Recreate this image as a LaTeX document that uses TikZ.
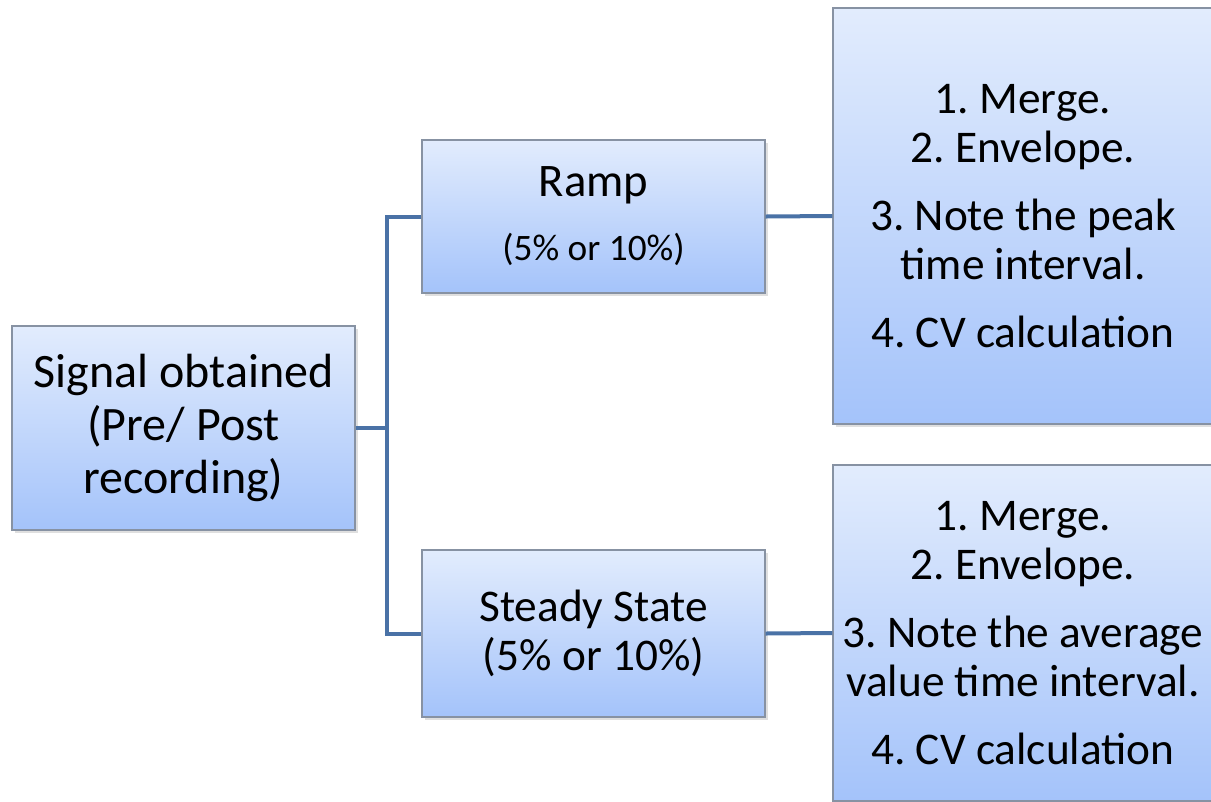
\documentclass[tikz,border=0pt]{standalone}
\usepackage{fontspec}
\setmainfont{Carlito}
\frenchspacing
\usetikzlibrary{shadows}

\definecolor{boxtop}{HTML}{E2ECFD}
\definecolor{boxbot}{HTML}{A4C3FA}
\definecolor{boxline}{HTML}{8792A3}
\definecolor{linkblue}{HTML}{4A72A6}

\tikzset{
  box/.style={draw=boxline, line width=0.8pt, top color=boxtop, bottom color=boxbot,
    inner sep=0pt, align=center, text=black,
    drop shadow={opacity=0.25, shadow xshift=2pt, shadow yshift=-2.5pt}},
  link/.style={draw=linkblue, line width=3pt},
  bigtext/.style={font=\fontsize{36}{40}\selectfont},
  steptext/.style={font=\fontsize{34}{37}\selectfont}
}

\begin{document}
\begin{tikzpicture}[x=0.75pt, y=-0.75pt]

\useasboundingbox (0,0) rectangle (1211,801);

% Draw boxes
\node[box, bigtext, minimum width=257.25pt, minimum height=153pt] (signal) at (183.5,428)
  {Signal obtained\\(Pre/ Post\\recording)};
\node[box, minimum width=257.25pt, minimum height=114.75pt] (ramp) at (593.5,216.5)
  {{\fontsize{35}{40}\selectfont Ramp}\\[21pt]{\fontsize{28}{31}\selectfont (5\% or 10\%)}};
\node[box, steptext, minimum width=257.25pt, minimum height=125.25pt] (steady) at (593.5,633.5)
  {Steady State\\(5\% or 10\%)};
\node[box, steptext, minimum width=285pt, minimum height=312pt] (peaksteps) at (1023,216)
  {1. Merge.\\2. Envelope.\\[14pt]3. Note the peak\\time interval.\\[14pt]4. CV calculation};
\node[box, steptext, minimum width=285pt, minimum height=252pt] (avgsteps) at (1023,633)
  {1. Merge.\\2. Envelope.\\[14pt]3. Note the average\\value time interval.\\[14pt]4. CV calculation};

% Draw connectors
\coordinate (fork) at (387,428);
\draw[link] (signal.east) -- (fork);
\draw[link] (ramp.west) -| (fork) |- (steady.west);
\draw[link] (ramp.east) -- (peaksteps.west);
\draw[link] (steady.east) -- (avgsteps.west);

\end{tikzpicture}
\end{document}
